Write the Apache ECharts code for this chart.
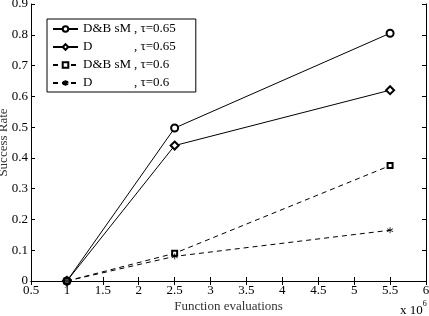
<!DOCTYPE html>
<html>
<head>
<meta charset="utf-8">
<script src="https://cdn.jsdelivr.net/npm/echarts@6/dist/echarts.min.js"></script>
<style>
  html, body { margin: 0; padding: 0; background: #fff; }
  #main { width: 429px; height: 316px; }
</style>
</head>
<body>
<div id="main"></div>
<script>
// function evaluations (x 10^6)
const evals = [1, 2.5, 5.5];
const dbsm65 = [0, 0.497, 0.805];
const d65 = [0, 0.44, 0.62];
const dbsm60 = [0, 0.09, 0.375];
const d60 = [0, 0.08, 0.165];
const methods = ['D&B sM', 'D', 'D&B sM', 'D'];
const taus = ['0.65', '0.65', '0.6', '0.6'];

const font = 'Liberation Serif';
const starPath = 'path://M0,-10L0,10M-8.7,-5L8.7,5M-8.7,5L8.7,-5';

function pairs(ys) {
    return ys.map((y, i) => [evals[i], y]);
}

function mkSeries(idx, ys, symbol, size, dashed) {
    return {
        name: 'S' + idx,
        type: 'line',
        data: pairs(ys),
        symbol: symbol,
        symbolSize: size,
        showAllSymbol: true,
        lineStyle: { color: '#000', width: 1, type: dashed ? [5, 4] : 'solid' },
        itemStyle: { color: '#000', borderColor: '#000', borderWidth: 0.8 },
        emphasis: { disabled: true },
        animation: false
    };
}

const chart = echarts.init(document.getElementById('main'));

const axisCommon = {
    type: 'value',
    axisLine: { lineStyle: { color: '#000', width: 1 } },
    axisTick: { inside: true, length: 4, lineStyle: { color: '#000' } },
    splitLine: { show: false }
};

const option = {
    backgroundColor: '#fff',
    animation: false,
    grid: { left: 31, right: 3, top: 4, bottom: 35, outerBoundsMode: 'none', containLabel: false },
    xAxis: [
        Object.assign({}, axisCommon, {
            min: 0.5, max: 6, interval: 0.5,
            name: 'Function evaluations',
            nameLocation: 'middle',
            nameGap: 19,
            nameMoveOverlap: false,
            nameTextStyle: { fontFamily: font, fontSize: 13, color: '#333' },
            axisLabel: { fontFamily: font, fontSize: 13, color: '#000', margin: 3 }
        }),
        Object.assign({}, axisCommon, {
            position: 'top',
            min: 0.5, max: 6, interval: 0.5,
            axisLabel: { show: false }
        })
    ],
    yAxis: [
        Object.assign({}, axisCommon, {
            min: 0, max: 0.9, interval: 0.1,
            name: 'Success Rate',
            nameLocation: 'middle',
            nameGap: 21,
            nameMoveOverlap: false,
            nameTextStyle: { fontFamily: font, fontSize: 13, color: '#333' },
            axisLabel: { fontFamily: font, fontSize: 13, color: '#000', margin: 3 }
        }),
        Object.assign({}, axisCommon, {
            position: 'right',
            min: 0, max: 0.9, interval: 0.1,
            axisLabel: { show: false }
        })
    ],
    legend: {
        orient: 'vertical',
        left: 47,
        top: 19,
        padding: [2, 20, 1, 5],
        itemGap: 2,
        itemWidth: 25,
        itemHeight: 7,
        backgroundColor: '#fff',
        borderColor: '#000',
        borderWidth: 1,
        borderRadius: 0,
        data: ['S0', 'S1', 'S2', 'S3'],
        formatter: function (name) {
            const i = Number(name.slice(1));
            return '{m|' + methods[i] + '}{t|, \u03c4=' + taus[i] + '}';
        },
        textStyle: {
            fontFamily: font,
            fontSize: 13,
            color: '#000',
            lineHeight: 16,
            rich: {
                m: { fontFamily: font, fontSize: 13, width: 51, height: 16, lineHeight: 16 },
                t: { fontFamily: font, fontSize: 13, height: 16, lineHeight: 16 }
            }
        }
    },
    graphic: [{
        type: 'text',
        left: 400,
        top: 300,
        style: {
            text: '{a|x 10}{b|6}',
            rich: {
                a: { fontFamily: font, fontSize: 13, fill: '#000', padding: [4, 0, 0, 0] },
                b: { fontFamily: font, fontSize: 8, fill: '#000', verticalAlign: 'top' }
            }
        }
    }],
    series: [
        mkSeries(0, dbsm65, 'emptyCircle', 7, false),
        mkSeries(1, d65, 'emptyDiamond', 8, false),
        mkSeries(2, dbsm60, 'emptyRect', 5, true),
        mkSeries(3, d60, starPath, 6, true)
    ]
};

chart.setOption(option);
</script>
</body>
</html>
